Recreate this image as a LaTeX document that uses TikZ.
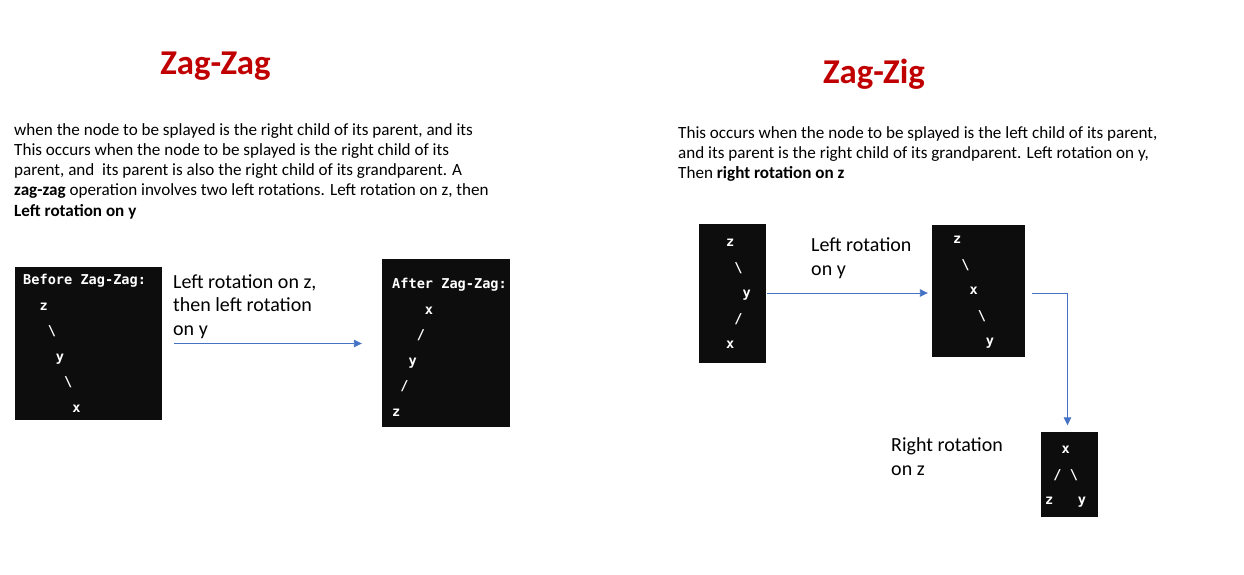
\documentclass[tikz,border=0pt]{standalone}
\usepackage{fontspec}
\setmainfont{Carlito}
\newfontfamily\treefont{DejaVu Sans Mono}
\usepackage{xcolor}
\definecolor{ZagRed}{HTML}{C00000}
\definecolor{ArrowBlue}{HTML}{4472C4}
\definecolor{BoxBlack}{HTML}{0D0D0D}
\usetikzlibrary{positioning,arrows.meta}

\begin{document}
\begin{tikzpicture}[
    x=1pt, y=-1pt,
    heading/.style={anchor=base, inner sep=0pt, text=ZagRed, font=\fontsize{34.8}{40}\selectfont\bfseries},
    para/.style={anchor=base west, align=left, inner sep=0pt, font=\fontsize{17.1}{20.3}\selectfont},
    caption/.style={anchor=base west, align=left, inner sep=0pt, font=\fontsize{20}{23.6}\selectfont},
    treebox/.style={rectangle, fill=BoxBlack, inner sep=0pt},
    treetext/.style={anchor=base west, align=left, inner sep=0pt, text=white, font=\treefont\bfseries\fontsize{13.6}{25.5}\selectfont},
    flow/.style={draw=ArrowBlue, line width=0.9pt, -{Triangle[length=8pt,width=7.5pt]}},
]
\useasboundingbox (0,0) rectangle (1244,575);

% Headings
\node[heading] (zagzag) at (215.5,75) {Zag-Zag};
\node[heading] (zagzig) at (874,83.5) {Zag-Zig};

% Descriptions (placed by the baseline of their last line)
\node[para] (leftpara) at (14,216.2) {when the node to be splayed is the right child of its parent, and its\\
    This occurs when the node to be splayed is the right child of its\\
    parent, and\ \ its parent is also the right child of its grandparent. A\\
    \textbf{zag-zag} operation involves two left rotations. Left rotation on z, then\\
    \textbf{Left rotation on y}};
\node[para] (rightpara) at (678,178.8) {This occurs when the node to be splayed is the left child of its parent,\\
    and its parent is the right child of its grandparent. Left rotation on y,\\
    Then \textbf{right rotation on z}};

% Zag-Zag trees
\node[treebox, minimum width=147pt, minimum height=153pt] (before) at (88.5,343.5) {};
\node[treetext] (beforetree) at (23,412) {Before Zag-Zag:\\
    \hphantom{00}z\\
    \hphantom{000}\textbackslash\\
    \hphantom{0000}y\\
    \hphantom{00000}\textbackslash\\
    \hphantom{000000}x};
\node[treebox, minimum width=128pt, minimum height=168pt] (after) at (446,343) {};
\node[treetext] (aftertree) at (392,416) {After Zag-Zag:\\
    \hphantom{0000}x\\
    \hphantom{000}/\\
    \hphantom{00}y\\
    \hphantom{0}/\\
    z};
\node[caption] (zagstep) at (173,335.2) {Left rotation on z,\\then left rotation\\on y};

% Zag-Zig trees
\node[treebox, minimum width=67pt, minimum height=139pt] (start) at (732.5,293) {};
\node[treetext] (starttree) at (726,348.7) {z\\
    \hphantom{0}\textbackslash\\
    \hphantom{00}y\\
    \hphantom{0}/\\
    x};
\node[treebox, minimum width=93pt, minimum height=132pt] (middle) at (978.5,291) {};
\node[treetext] (middletree) at (953,345.7) {z\\
    \hphantom{0}\textbackslash\\
    \hphantom{00}x\\
    \hphantom{000}\textbackslash\\
    \hphantom{0000}y};
\node[treebox, minimum width=57pt, minimum height=85pt] (final) at (1069.5,474) {};
\node[treetext] (finaltree) at (1045,504.7) {\hphantom{00}x\\
    \hphantom{0}/\hphantom{0}\textbackslash\\
    z\hphantom{000}y};
\node[caption] (zigstep) at (811,275.1) {Left rotation\\on y};
\node[caption] (zagstepb) at (891,475.1) {Right rotation\\on z};

% Arrows
\draw[flow, shorten <=12pt, shorten >=20pt] (before.east) -- (before.east -| after.west);
\draw[flow, shorten <=1pt, shorten >=4pt] (start.east) -- (start.east -| middle.west);
\draw[flow, shorten >=6pt] ([xshift=7pt]middle.east |- start.east) -| ([xshift=-2pt]final.north);

\end{tikzpicture}
\end{document}
